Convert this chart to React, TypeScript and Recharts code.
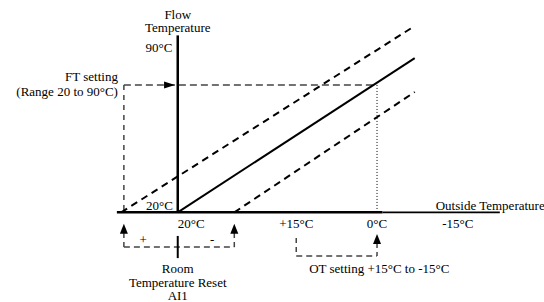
import { ComposedChart, Line, Scatter, XAxis, YAxis, ReferenceLine } from 'recharts'

// x: diagram position (0 = room temp origin, 37 = 0°C outside), y: flow temperature °C
const X_DOMAIN = [-33, 68]
const Y_DOMAIN = [-18, 110]

const heatCurve = [
  { x: 0, y: 20 },
  { x: 44, y: 85.4 },
]
const upperCurve = [
  { x: -10.5, y: 20 },
  { x: 44, y: 99 },
]
const lowerCurve = [
  { x: 10.5, y: 20 },
  { x: 44, y: 71 },
]

const FT_SETTING = 74
const OT_SETTING_X = 37
const OT_RANGE_X = 22
const ROOM_RESET_X = [-10, 10.5]

const otTickX = [22, 37, 52]
const otTickLabels = ['+15°C', '0°C', '-15°C']

const arrows = [
  { x: -0.5, y: FT_SETTING, dir: 'right' },
  { x: ROOM_RESET_X[0], y: 15.2, dir: 'up' },
  { x: ROOM_RESET_X[1], y: 15.2, dir: 'up' },
  { x: OT_SETTING_X, y: 10.8, dir: 'up' },
]

const labels = [
  { x: 0, y: 104, text: 'Flow', anchor: 'middle' },
  { x: 0, y: 98.2, text: 'Temperature', anchor: 'middle' },
  { x: -1, y: 89.7, text: '90°C', anchor: 'end' },
  { x: -11.1, y: 77.4, text: 'FT setting', anchor: 'end' },
  { x: -11.1, y: 71.4, text: '(Range 20 to 90°C)', anchor: 'end' },
  { x: -0.9, y: 22.7, text: '20°C', anchor: 'end' },
  { x: 0, y: 15.1, text: '20°C', anchor: 'start' },
  ...otTickX.map((x, i) => ({ x, y: 15.1, text: otTickLabels[i], anchor: 'middle' })),
  { x: 47.9, y: 22.7, text: 'Outside Temperature', anchor: 'start' },
  { x: -6.4, y: 8.7, text: '+', anchor: 'middle' },
  { x: 6.4, y: 8.7, text: '-', anchor: 'middle' },
  { x: 0, y: -4, text: 'Room', anchor: 'middle' },
  { x: 0, y: -9.7, text: 'Temperature Reset', anchor: 'middle' },
  { x: 0, y: -15.1, text: 'AI1', anchor: 'middle' },
  { x: 24.4, y: -3.6, text: 'OT setting +15°C to -15°C', anchor: 'start' },
]

const FONT = "'Liberation Serif', 'Times New Roman', Times, serif"

function Arrow(props: any) {
  const { cx, cy, payload } = props
  if (payload.dir === 'right') {
    return <polygon points={`${cx},${cy} ${cx - 11},${cy - 3.5} ${cx - 11},${cy + 3.5}`} fill="#000" />
  }
  return <polygon points={`${cx},${cy} ${cx - 4},${cy + 10} ${cx + 4},${cy + 10}`} fill="#000" />
}

function Label(props: any) {
  const { cx, cy, payload } = props
  return (
    <text
      x={cx}
      y={cy}
      textAnchor={payload.anchor}
      dominantBaseline="central"
      style={{ fontFamily: FONT, fontSize: 13 }}
      fill="#000"
    >
      {payload.text}
    </text>
  )
}

const seg = (x1: number, y1: number, x2: number, y2: number) => [
  { x: x1, y: y1 },
  { x: x2, y: y2 },
]

export default function App() {
  return (
    <div style={{ position: 'absolute', left: 0, top: 0, background: '#fff' }}>
      <ComposedChart width={544} height={302} margin={{ top: 0, right: 0, bottom: 0, left: 0 }}>
        <XAxis type="number" dataKey="x" domain={X_DOMAIN} hide allowDataOverflow />
        <YAxis type="number" dataKey="y" domain={Y_DOMAIN} hide allowDataOverflow width={0} />

        {/* axes */}
        <ReferenceLine segment={seg(0, 20, 0, 95)} stroke="#000" strokeWidth={2.5} />
        <ReferenceLine segment={seg(-11.3, 20, 38, 20)} stroke="#000" strokeWidth={2.5} />
        <ReferenceLine segment={seg(38, 20, 59.8, 20)} stroke="#000" strokeWidth={1.8} />

        {/* FT setting guides */}
        <ReferenceLine segment={seg(-10, FT_SETTING, OT_SETTING_X, FT_SETTING)} stroke="#444" strokeWidth={1.5} strokeDasharray="7 4" />
        <ReferenceLine segment={seg(-10, FT_SETTING, -10, 20)} stroke="#444" strokeWidth={1.5} strokeDasharray="5 5" />
        <ReferenceLine segment={seg(OT_SETTING_X, FT_SETTING, OT_SETTING_X, 20)} stroke="#000" strokeWidth={1} strokeDasharray="1 2" />

        {/* room reset bracket */}
        <ReferenceLine segment={seg(ROOM_RESET_X[0], 11.2, ROOM_RESET_X[0], 5.3)} stroke="#444" strokeWidth={1.5} strokeDasharray="5 4" />
        <ReferenceLine segment={seg(ROOM_RESET_X[1], 11.2, ROOM_RESET_X[1], 5.3)} stroke="#444" strokeWidth={1.5} strokeDasharray="5 4" />
        <ReferenceLine segment={seg(ROOM_RESET_X[0], 5.3, ROOM_RESET_X[1], 5.3)} stroke="#444" strokeWidth={1.5} strokeDasharray="6 4" />
        <ReferenceLine segment={seg(0, 10, 0, 0.6)} stroke="#000" strokeWidth={2} />

        {/* OT setting bracket */}
        <ReferenceLine segment={seg(OT_RANGE_X, 9.1, OT_RANGE_X, 1.5)} stroke="#444" strokeWidth={1.5} strokeDasharray="5 4" />
        <ReferenceLine segment={seg(OT_RANGE_X, 1.5, OT_SETTING_X, 1.5)} stroke="#444" strokeWidth={1.5} strokeDasharray="6 4" />
        <ReferenceLine segment={seg(OT_SETTING_X, 7, OT_SETTING_X, 1.5)} stroke="#444" strokeWidth={1.5} strokeDasharray="5 4" />

        {/* heating curves */}
        <Line data={upperCurve} dataKey="y" stroke="#000" strokeWidth={2} strokeDasharray="7 5" dot={false} isAnimationActive={false} />
        <Line data={heatCurve} dataKey="y" stroke="#000" strokeWidth={2} dot={false} isAnimationActive={false} />
        <Line data={lowerCurve} dataKey="y" stroke="#000" strokeWidth={2} strokeDasharray="7 5" dot={false} isAnimationActive={false} />

        <Scatter data={arrows} shape={Arrow} isAnimationActive={false} />
        <Scatter data={labels} shape={Label} isAnimationActive={false} />
      </ComposedChart>
    </div>
  )
}
